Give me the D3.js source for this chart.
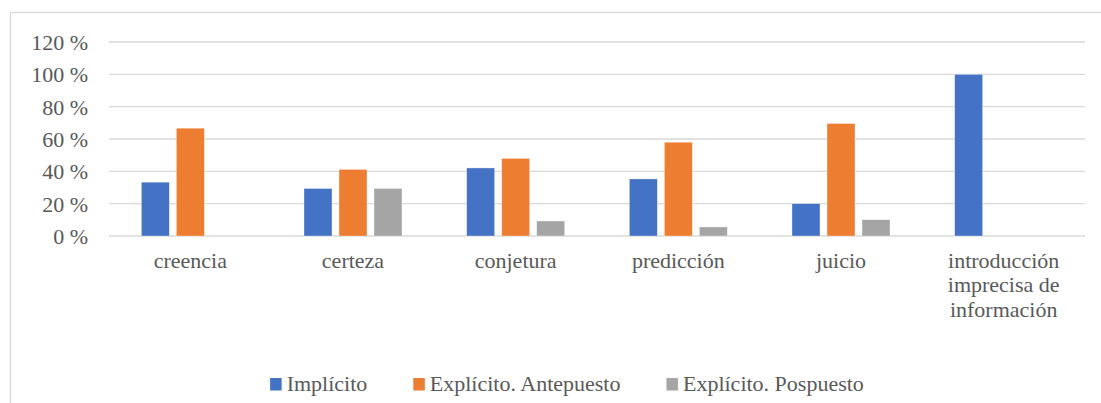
<!DOCTYPE html>
<html>
<head>
<meta charset="utf-8">
<script src="https://cdn.jsdelivr.net/npm/d3@7"></script>
<style>
  html, body { margin: 0; padding: 0; background: #fff; }
  svg { display: block; }
</style>
</head>
<body>
<svg id="chart" width="1101" height="403"></svg>
<script>
// Categories (multi-line labels split on "\n")
const categories = ["creencia", "certeza", "conjetura", "predicción", "juicio",
  "introducción\nimprecisa de\ninformación"];
const seriesNames = ["Implícito", "Explícito. Antepuesto", "Explícito. Pospuesto"];
const implicito   = [0.333, 0.294, 0.421, 0.353, 0.200, 1.000];
const antepuesto  = [0.667, 0.412, 0.480, 0.580, 0.696, 0];
const pospuesto   = [0,     0.294, 0.093, 0.056, 0.101, 0];
const seriesColors = ["#4472C4", "#ED7D31", "#A5A5A5"];
const yTicks = [0, 0.2, 0.4, 0.6, 0.8, 1.0, 1.2];
const yTickLabels = ["0 %", "20 %", "40 %", "60 %", "80 %", "100 %", "120 %"];

const seriesValues = [implicito, antepuesto, pospuesto];
const rows = categories.map((c, i) => ({
  cat: c,
  vals: seriesNames.map((s, j) => ({ series: s, value: seriesValues[j][i], color: seriesColors[j] }))
}));

const FONT = "Liberation Serif";
const fontSize = 22;
const textColor = "#595959";
const gridColor = "#d9d9d9";

const svg = d3.select("#chart")
  .attr("font-family", FONT);

// Outer chart frame
svg.append("rect")
  .attr("x", 10.5).attr("y", 12.5)
  .attr("width", 1120).attr("height", 420)
  .attr("fill", "none").attr("stroke", gridColor).attr("stroke-width", 1.3);

const plot = { left: 109, right: 1085, top: 42, bottom: 236 };

const x = d3.scaleBand().domain(categories).range([plot.left, plot.right]).padding(0);
const xInner = d3.scaleBand().domain(seriesNames).range([0, x.bandwidth()])
  .paddingInner(0.2).paddingOuter(0.924);
const y = d3.scaleLinear().domain([0, 1.2]).range([plot.bottom, plot.top]);

// Gridlines
svg.append("g").selectAll("line").data(yTicks).join("line")
  .attr("x1", plot.left).attr("x2", plot.right)
  .attr("y1", d => y(d)).attr("y2", d => y(d))
  .attr("stroke", gridColor).attr("stroke-width", 1.4);

// Y axis labels
const yAxis = d3.axisLeft(y).tickValues(yTicks)
  .tickFormat((d, i) => yTickLabels[i]).tickSize(0).tickPadding(0);
const yg = svg.append("g").attr("transform", `translate(${88},0)`).call(yAxis)
  .attr("font-family", FONT).attr("font-size", fontSize);
yg.select(".domain").remove();
yg.selectAll("text")
  .attr("font-family", FONT)
  .attr("font-size", fontSize)
  .attr("fill", textColor)
  .attr("dy", "0.34em");

// Bars
const groups = svg.append("g").selectAll("g").data(rows).join("g")
  .attr("transform", d => `translate(${x(d.cat)},0)`);
groups.selectAll("rect").data(d => d.vals.filter(v => v.value > 0)).join("rect")
  .attr("x", d => xInner(d.series))
  .attr("width", xInner.bandwidth())
  .attr("y", d => y(d.value))
  .attr("height", d => y(0) - y(d.value))
  .attr("fill", d => d.color)
  .attr("stroke", "#ffffff").attr("stroke-width", 0.6).attr("stroke-opacity", 0.6);

// X category labels
const xl = svg.append("g").selectAll("text").data(categories).join("text")
  .attr("x", d => x(d) + x.bandwidth() / 2)
  .attr("y", 268)
  .attr("text-anchor", "middle")
  .attr("font-family", FONT)
  .attr("font-size", fontSize)
  .attr("fill", textColor);
xl.selectAll("tspan").data(d => d.split("\n")).join("tspan")
  .attr("x", function () { return d3.select(this.parentNode).attr("x"); })
  .attr("dy", (d, i) => i === 0 ? 0 : 24.3)
  .text(d => d);

// Legend
const legend = svg.append("g");
const sq = 11.5, gapSqText = 5, gapItems = 46;
let cursor = 0;
seriesNames.forEach((s, i) => {
  const g = legend.append("g");
  g.append("rect").attr("x", 0).attr("y", -13).attr("width", sq).attr("height", sq + 1)
    .attr("fill", seriesColors[i]);
  const t = g.append("text").attr("x", sq + gapSqText).attr("y", 0)
    .attr("font-family", FONT).attr("font-size", fontSize).attr("fill", textColor)
    .text(s);
  const w = sq + gapSqText + t.node().getComputedTextLength();
  g.attr("transform", `translate(${cursor},0)`);
  cursor += w + gapItems;
});
const totalW = cursor - gapItems;
legend.attr("transform", `translate(${567 - totalW / 2},${391})`);
</script>
</body>
</html>
